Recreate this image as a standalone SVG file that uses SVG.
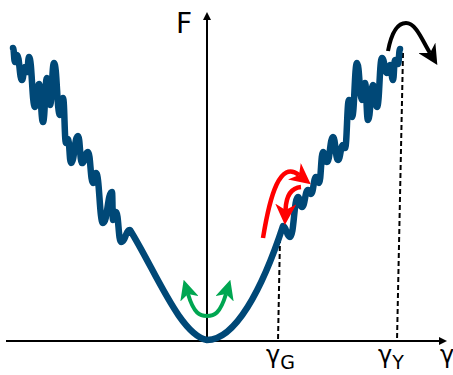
<svg xmlns="http://www.w3.org/2000/svg" width="453" height="375" viewBox="0 0 453 375">
<style>
.axis{stroke:#000;stroke-width:2;fill:none}
.dash{stroke:#000;stroke-width:2;stroke-dasharray:5,3;fill:none}
.curve{stroke:#004877;stroke-width:6.5;fill:none;stroke-linejoin:round;stroke-linecap:round}
.lbl{font-family:"DejaVu Sans",sans-serif;fill:#000}
</style>
<defs>
<marker id="axhead" markerUnits="userSpaceOnUse" markerWidth="10" markerHeight="10" refX="2" refY="4" orient="auto" viewBox="0 0 10 8"><path d="M0,0 L8,4 L0,8 z" fill="#000"/></marker>
<marker id="ghead" markerUnits="userSpaceOnUse" markerWidth="20" markerHeight="19" refX="5" refY="9.5" orient="auto-start-reverse" viewBox="0 0 20 19"><path d="M0,0 L20,9.5 L0,19 L5,9.5 z" fill="#00a651"/></marker>
<marker id="rhead" markerUnits="userSpaceOnUse" markerWidth="21" markerHeight="21" refX="6" refY="10.5" orient="auto" viewBox="0 0 21 21"><path d="M0,0 L21,10.5 L0,21 L6,10.5 z" fill="#ff0000"/></marker>
<marker id="khead" markerUnits="userSpaceOnUse" markerWidth="20" markerHeight="20" refX="6" refY="10" orient="auto" viewBox="0 0 20 20"><path d="M0,0 L20,10 L0,20 L6,10 z" fill="#000"/></marker>
</defs>
<g id="axes">
<path class="axis" d="M6,341 L441,341" marker-end="url(#axhead)"/>
<path class="axis" d="M207,341 L207,18" marker-end="url(#axhead)"/>
</g>
<g id="guides">
<path class="dash" d="M280,238 L278,341"/>
<path class="dash" d="M403,53 L397,341"/>
</g>
<g id="energy-curve">
<path class="curve" d="M13,48 C14,48 14,62 15,62 C16,62 16,55 17,55 C19.5,55 19.5,80 22,80 C23.5,80 23.5,67 25,67 C26,67 26,72 27,72 C28,72 28,57 29,57 C32,57 32,107 35,107 C37,107 37,84 39,84 C41,84 41,122 43,122 C45,122 45,78 47,78 C48.5,78 48.5,105 50,105 C52,105 52,63 54,63 C57,63 57,115 60,115 C61.5,115 61.5,98 63,98 C64.5,98 64.5,143 66,143 C67,143 67,139 68,139 C69.5,139 69.5,163 71,163 C74.5,163 74.5,136 78,136 C80,136 80,163 82,163 C85,163 85,152 88,152 C90.5,152 90.5,183 93,183 C94.5,183 94.5,173 96,173 C99.5,173 99.5,223 103,223 C107.5,223 107.5,192 112,192 C112.5,192 112.5,220 113,220 C114.5,220 114.5,212 116,212 C118.5,212 118.5,242 121,242 C125.5,242 125.5,230 130,230 C155,270 180,335 207,340 C235,340 262,290 283,226 C286.5,226 286.5,237 290,237 C294,237 294,197 298,197 C300,197 300,207 302,207 C305,207 305,190 308,190 C309.5,190 309.5,194 311,194 C313.5,194 313.5,177 316,177 C317.5,177 317.5,183 319,183 C321,183 321,152 323,152 C325,152 325,162 327,162 C330,162 330,137 333,137 C335.5,137 335.5,160 338,160 C340.5,160 340.5,145 343,145 C344,145 344,148 345,148 C347,148 347,100 349,100 C350.5,100 350.5,117 352,117 C354.5,117 354.5,63 357,63 C359.5,63 359.5,100 362,100 C363.5,100 363.5,83 365,83 C366.5,83 366.5,120 368,120 C370.5,120 370.5,85 373,85 C375,85 375,107 377,107 C379.5,107 379.5,58 382,58 C384.5,58 384.5,73 387,73 C388.5,73 388.5,65 390,65 C391.5,65 391.5,80 393,80 C394,80 394,60 395,60 C396.5,60 396.5,64 398,64 C399,64 399,49 400,49"/>
</g>
<g id="connectors">
<path d="M188,294 C194,314 200,316 207,316 C214,316 220,314 226,294" stroke="#00a651" stroke-width="4" fill="none" marker-start="url(#ghead)" marker-end="url(#ghead)"/>
<path d="M263,238 C270,195 280,160 299,175" stroke="#ff0000" stroke-width="4.5" fill="none" marker-end="url(#rhead)"/>
<path d="M301,187 C290,188 286,198 285.5,210" stroke="#ff0000" stroke-width="4.5" fill="none" marker-end="url(#rhead)"/>
<path d="M388,51 C392,30 399,23 406,23 C416,23 422,40 430,53" stroke="#000" stroke-width="4" fill="none" marker-end="url(#khead)"/>
</g>
<g id="labels">
<text class="lbl" x="176" y="33" font-size="28">F</text>
<text class="lbl" x="266" y="363" font-size="24">γ<tspan font-size="19" y="369">G</tspan></text>
<text class="lbl" x="378" y="363" font-size="24">γ<tspan font-size="19" y="369">Y</tspan></text>
<text class="lbl" x="440" y="363" font-size="24">γ</text>
</g>
</svg>
